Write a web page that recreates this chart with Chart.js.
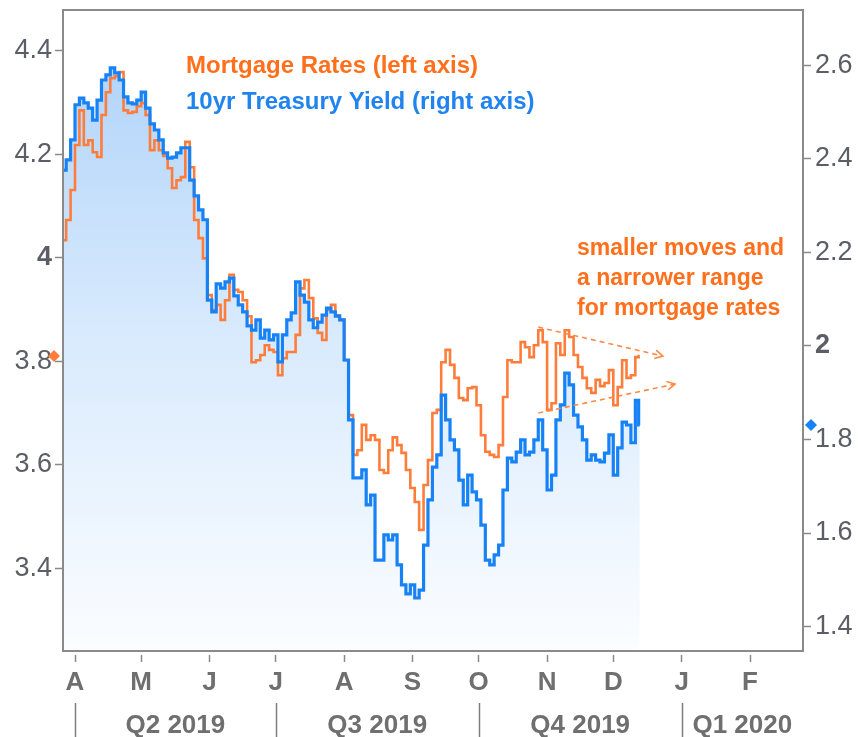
<!DOCTYPE html>
<html>
<head>
<meta charset="utf-8">
<script src="https://cdn.jsdelivr.net/npm/chart.js@4.4.1/dist/chart.umd.min.js"></script>
<style>
  html, body { margin: 0; padding: 0; background: #fff; }
  #wrap { width: 858px; height: 737px; }
</style>
</head>
<body>
<div id="wrap"><canvas id="rateChart" width="858" height="737"></canvas></div>
<script>
// x = days counted from 1 Apr 2019, one reading every two days
const days = [];
for (let d = -5; d <= 255; d += 2) days.push(d);
days.push(256);

// left axis
const mortgageRates = [
  4.034, 4.073, 4.131, 4.218, 4.285, 4.218, 4.227, 4.204, 4.195, 4.276,
  4.320, 4.347, 4.351, 4.359, 4.285, 4.280, 4.282, 4.293, 4.299, 4.276,
  4.208, 4.227, 4.208, 4.197, 4.173, 4.135, 4.150, 4.156, 4.224, 4.175,
  4.073, 4.038, 3.999, 3.928, 3.899, 3.909, 3.880, 3.918, 3.967, 3.938,
  3.934, 3.918, 3.887, 3.798, 3.802, 3.812, 3.831, 3.822, 3.818, 3.773,
  3.806, 3.818, 3.818, 3.851, 3.941, 3.957, 3.922, 3.883, 3.855, 3.841,
  3.899, 3.909, 3.889, 3.880, 3.802, 3.696, 3.619, 3.628, 3.677, 3.648,
  3.657, 3.648, 3.590, 3.584, 3.628, 3.653, 3.638, 3.623, 3.590, 3.555,
  3.528, 3.474, 3.561, 3.609, 3.700, 3.706, 3.798, 3.822, 3.793, 3.768,
  3.729, 3.725, 3.748, 3.750, 3.715, 3.657, 3.625, 3.619, 3.615, 3.638,
  3.731, 3.802, 3.798, 3.798, 3.837, 3.827, 3.808, 3.831, 3.860, 3.837,
  3.706, 3.719, 3.835, 3.812, 3.860, 3.847, 3.812, 3.789, 3.768, 3.748,
  3.739, 3.764, 3.752, 3.758, 3.783, 3.715, 3.750, 3.802, 3.768, 3.773,
  3.808, 3.810
];

// right axis
const treasuryYield = [
  2.376, 2.398, 2.441, 2.516, 2.530, 2.520, 2.509, 2.483, 2.526, 2.569,
  2.580, 2.595, 2.584, 2.569, 2.533, 2.520, 2.518, 2.526, 2.543, 2.509,
  2.475, 2.462, 2.441, 2.413, 2.402, 2.404, 2.413, 2.424, 2.424, 2.355,
  2.321, 2.291, 2.270, 2.098, 2.073, 2.133, 2.124, 2.137, 2.145, 2.107,
  2.088, 2.073, 2.043, 2.034, 2.056, 2.017, 2.034, 2.013, 2.024, 1.966,
  2.024, 2.056, 2.071, 2.137, 2.109, 2.094, 2.056, 2.039, 2.051, 2.066,
  2.081, 2.073, 2.064, 2.056, 1.970, 1.842, 1.718, 1.718, 1.735, 1.660,
  1.681, 1.542, 1.542, 1.596, 1.585, 1.596, 1.532, 1.489, 1.470, 1.489,
  1.461, 1.478, 1.574, 1.671, 1.741, 1.767, 1.895, 1.842, 1.799, 1.778,
  1.713, 1.660, 1.724, 1.688, 1.671, 1.617, 1.542, 1.532, 1.553, 1.574,
  1.692, 1.760, 1.752, 1.773, 1.799, 1.767, 1.773, 1.799, 1.842, 1.778,
  1.692, 1.724, 1.842, 1.874, 1.942, 1.917, 1.852, 1.827, 1.799, 1.756,
  1.767, 1.756, 1.752, 1.771, 1.810, 1.724, 1.782, 1.837, 1.831, 1.793,
  1.884, 1.831
];

const monthTicks = [0, 30, 61, 91, 122, 153, 183, 214, 244, 275, 306];
const monthLabels = ['A', 'M', 'J', 'J', 'A', 'S', 'O', 'N', 'D', 'J', 'F'];
const quarterStarts = [0, 91, 183, 275, 366];
const quarterLabels = ['Q2 2019', 'Q3 2019', 'Q4 2019', 'Q1 2020'];
const leftTicks = [3.4, 3.6, 3.8, 4, 4.2, 4.4];
const rightTicks = [1.4, 1.6, 1.8, 2, 2.2, 2.4, 2.6];
const noteLines = ['smaller moves and', 'a narrower range', 'for mortgage rates'];
// dashed trend arrows, in (day, left-axis rate)
const trendArrows = [
  { from: [210, 3.866], to: [266.5, 3.810] },
  { from: [210, 3.700], to: [272, 3.756] }
];

const ORANGE = '#ff7d3b';
const ORANGE_TEXT = '#ff6f1c';
const BLUE = '#1782f6';
const BLUE_TEXT = '#2184ee';
const GREY = '#8a8a8a';
const LABEL_GREY = '#6f6f6f';
const FONT = 'Liberation Sans';

function diamond(ctx, x, y, r, color) {
  ctx.beginPath();
  ctx.moveTo(x, y - r);
  ctx.lineTo(x + r, y);
  ctx.lineTo(x, y + r);
  ctx.lineTo(x - r, y);
  ctx.closePath();
  ctx.fillStyle = color;
  ctx.fill();
}

// drop the extra room Chart.js keeps for half a tick label at the ends
function noEdgePadding(s) {
  s.paddingTop = 0;
  s.paddingBottom = 0;
  s.paddingLeft = 0;
  s.paddingRight = 0;
}

const extras = {
  id: 'extras',
  afterDraw(chart) {
    const ctx = chart.ctx;
    const a = chart.chartArea;
    const xs = chart.scales.x;
    const yL = chart.scales.yL;
    const yR = chart.scales.yR;
    ctx.save();

    // plot frame
    ctx.strokeStyle = GREY;
    ctx.lineWidth = 2;
    ctx.strokeRect(a.left, a.top, a.right - a.left, a.bottom - a.top);

    // quarter row
    ctx.strokeStyle = '#7c7c7c';
    ctx.lineWidth = 1.5;
    ctx.fillStyle = LABEL_GREY;
    ctx.font = 'bold 26px ' + FONT;
    ctx.textAlign = 'center';
    ctx.textBaseline = 'alphabetic';
    quarterLabels.forEach((q, i) => {
      const x0 = xs.getPixelForValue(quarterStarts[i]);
      const x1 = xs.getPixelForValue(Math.min(quarterStarts[i + 1], xs.max));
      ctx.beginPath();
      ctx.moveTo(Math.round(x0) + 0.5, 703);
      ctx.lineTo(Math.round(x0) + 0.5, 737);
      ctx.stroke();
      ctx.fillText(q, (x0 + x1) / 2, 733);
    });

    // series titles
    ctx.textAlign = 'left';
    ctx.font = 'bold 24px ' + FONT;
    ctx.fillStyle = ORANGE_TEXT;
    ctx.fillText('Mortgage Rates (left axis)', 186, 73);
    ctx.fillStyle = BLUE_TEXT;
    ctx.fillText('10yr Treasury Yield (right axis)', 186, 109);

    // note
    ctx.font = 'bold 23px ' + FONT;
    ctx.fillStyle = ORANGE_TEXT;
    noteLines.forEach((t, i) => ctx.fillText(t, 577, 255 + i * 30));

    // trend arrows
    ctx.strokeStyle = '#ff8a45';
    ctx.lineWidth = 1.6;
    trendArrows.forEach(ar => {
      const x1 = xs.getPixelForValue(ar.from[0]), y1 = yL.getPixelForValue(ar.from[1]);
      const x2 = xs.getPixelForValue(ar.to[0]), y2 = yL.getPixelForValue(ar.to[1]);
      ctx.setLineDash([5, 4]);
      ctx.beginPath();
      ctx.moveTo(x1, y1);
      ctx.lineTo(x2, y2);
      ctx.stroke();
      ctx.setLineDash([]);
      const ang = Math.atan2(y2 - y1, x2 - x1);
      ctx.beginPath();
      ctx.moveTo(x2 - 9 * Math.cos(ang - 0.5), y2 - 9 * Math.sin(ang - 0.5));
      ctx.lineTo(x2, y2);
      ctx.lineTo(x2 - 9 * Math.cos(ang + 0.5), y2 - 9 * Math.sin(ang + 0.5));
      ctx.stroke();
    });

    // latest-value markers on the axes
    diamond(ctx, a.left - 9, yL.getPixelForValue(mortgageRates[mortgageRates.length - 1]), 6, ORANGE);
    diamond(ctx, a.right + 8, yR.getPixelForValue(treasuryYield[treasuryYield.length - 1]), 6, BLUE);

    ctx.restore();
  }
};

const ctx = document.getElementById('rateChart').getContext('2d');

new Chart(ctx, {
  type: 'line',
  data: {
    datasets: [
      {
        label: '10yr Treasury Yield (right axis)',
        data: days.map((d, i) => ({ x: d, y: treasuryYield[i] })),
        yAxisID: 'yR',
        borderColor: BLUE,
        borderWidth: 3.2,
        pointRadius: 0,
        stepped: 'middle',
        fill: 'start',
        backgroundColor: c => {
          const area = c.chart.chartArea;
          if (!area) return 'rgba(0,0,0,0)';
          const g = c.chart.ctx.createLinearGradient(0, area.top, 0, area.bottom);
          g.addColorStop(0, '#abd0f9');
          g.addColorStop(0.5, '#d8eafd');
          g.addColorStop(1, '#fbfdff');
          return g;
        }
      },
      {
        label: 'Mortgage Rates (left axis)',
        data: days.map((d, i) => ({ x: d, y: mortgageRates[i] })),
        yAxisID: 'yL',
        borderColor: ORANGE,
        borderWidth: 2.6,
        pointRadius: 0,
        stepped: 'middle',
        fill: false
      }
    ]
  },
  options: {
    responsive: false,
    animation: false,
    layout: { padding: { top: 10, left: 0, right: 0, bottom: 0 } },
    plugins: {
      legend: { display: false },
      tooltip: { enabled: false },
      filler: { drawTime: 'beforeDatasetsDraw' }
    },
    scales: {
      x: {
        type: 'linear',
        min: -5.44,
        max: 330,
        afterBuildTicks: s => { s.ticks = monthTicks.map(v => ({ value: v })); },
        afterFit: s => { s.height = 86; noEdgePadding(s); },
        ticks: {
          autoSkip: false,
          maxRotation: 0,
          padding: 5,
          color: LABEL_GREY,
          font: { family: FONT, size: 26, weight: 'bold' },
          callback: (v, i) => monthLabels[i]
        },
        grid: {
          drawOnChartArea: false,
          tickLength: 11,
          tickColor: GREY,
          tickWidth: 1.5,
          tickBorderDash: [0, 4, 7, 60]
        },
        border: { display: false }
      },
      yL: {
        type: 'linear',
        position: 'left',
        min: 3.24,
        max: 4.479,
        afterBuildTicks: s => { s.ticks = leftTicks.map(v => ({ value: v })); },
        afterFit: s => { s.width = 63; noEdgePadding(s); },
        ticks: {
          padding: 3,
          color: '#5b5e66',
          font: c => ({ family: FONT, size: 27, weight: c.tick && c.tick.value === 4 ? 'bold' : 'normal' }),
          callback: v => String(v)
        },
        grid: { drawOnChartArea: false, tickLength: 8, tickColor: GREY, tickWidth: 1.5 },
        border: { display: false }
      },
      yR: {
        type: 'linear',
        position: 'right',
        min: 1.3476,
        max: 2.7187,
        afterBuildTicks: s => { s.ticks = rightTicks.map(v => ({ value: v })); },
        afterFit: s => { s.width = 55; noEdgePadding(s); },
        ticks: {
          padding: 4,
          color: '#5b5e66',
          font: c => ({ family: FONT, size: 27, weight: c.tick && c.tick.value === 2 ? 'bold' : 'normal' }),
          callback: v => String(v)
        },
        grid: { drawOnChartArea: false, tickLength: 8, tickColor: GREY, tickWidth: 1.5 },
        border: { display: false }
      }
    }
  },
  plugins: [extras]
});
</script>
</body>
</html>
